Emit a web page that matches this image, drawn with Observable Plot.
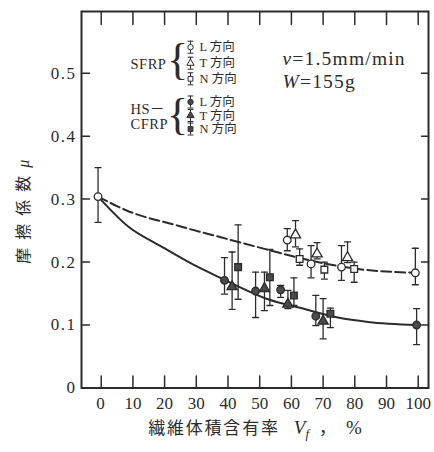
<!DOCTYPE html>
<html><head><meta charset="utf-8">
<script src="https://cdn.jsdelivr.net/npm/d3@7"></script>
<script src="https://cdn.jsdelivr.net/npm/@observablehq/plot@0.6"></script>
<style>
html,body{margin:0;padding:0;background:#fff;}
</style>
</head><body><div id="chart"></div>
<script>
// ---- data ----
const xTicks = [0, 10, 20, 30, 40, 50, 60, 70, 80, 90, 100];
const yTicks = [0, 0.1, 0.2, 0.3, 0.4, 0.5];
const yTickLabels = ["0", "0.1", "0.2", "0.3", "0.4", "0.5"];

// each row: [Vf %, mu, lower, upper]
const sfrpL = [[-1, 0.304, 0.263, 0.350], [58.7, 0.235, 0.218, 0.253], [66.2, 0.197, 0.175, 0.226], [75.8, 0.192, 0.171, 0.226], [99.1, 0.183, 0.164, 0.222]];
const sfrpT = [[61.3, 0.243, 0.224, 0.266], [68.1, 0.213, 0.205, 0.231], [77.7, 0.207, 0.199, 0.232]];
const sfrpN = [[62.6, 0.205, 0.195, 0.221], [70.4, 0.188, 0.173, 0.200], [79.8, 0.189, 0.168, 0.200]];
const cfrpL = [[38.9, 0.171, 0.149, 0.207], [48.7, 0.154, 0.112, 0.184], [56.6, 0.156, 0.144, 0.163], [67.7, 0.114, 0.099, 0.147], [99.5, 0.100, 0.069, 0.126]];
const cfrpT = [[41.3, 0.161, 0.125, 0.216], [51.5, 0.158, 0.123, 0.184], [58.9, 0.133, 0.126, 0.155], [70.0, 0.106, 0.078, 0.142]];
const cfrpN = [[43.2, 0.192, 0.141, 0.259], [53.2, 0.176, 0.131, 0.220], [60.8, 0.147, 0.131, 0.175], [72.3, 0.118, 0.096, 0.127]];

const sfrpCurveX = [-1, 8, 24, 38, 53, 63, 81, 99.1];
const sfrpCurveY = [0.304, 0.282, 0.258, 0.239, 0.219, 0.206, 0.189, 0.183];
const cfrpCurveX = [-1, 8.4, 18.9, 29.4, 38, 52.6, 63, 74.7, 84.2, 99.5];
const cfrpCurveY = [0.304, 0.257, 0.225, 0.195, 0.174, 0.141, 0.127, 0.112, 0.105, 0.100];

const directionLabels = ["L 方向", "T 方向", "N 方向"];
const symbolNames = ["circle", "triangle", "square"];
const groupLabels = ["SFRP", "HS－", "CFRP"];

// ---- layout ----
const W = 434, H = 452;
const mL = 81, mR = 6, mT = 11, mB = 64.5;
const X = p => (p - 100.7) / 3.17;      // pixel -> Vf
const Y = p => (387.5 - p) / 629.6;     // pixel -> mu
const xDom = [X(mL), X(W - mR)];
const yDom = [0, Y(mT)];
const ink = "#2b2b2b";
const serif = "'Liberation Serif', 'Noto Sans CJK JP', serif";
const lineShape = {draw(ctx, l) { ctx.moveTo(0, 0); ctx.lineTo(0, -l); }};

const toRows = (arr, sym, filled) => arr.map(r => ({x: r[0], y: r[1], lo: r[2], hi: r[3], sym, filled}));
const points = [
  ...toRows(sfrpL, symbolNames[0], false), ...toRows(sfrpT, symbolNames[1], false), ...toRows(sfrpN, symbolNames[2], false),
  ...toRows(cfrpL, symbolNames[0], true), ...toRows(cfrpT, symbolNames[1], true), ...toRows(cfrpN, symbolNames[2], true)
];
const sfrpCurve = sfrpCurveX.map((x, i) => ({x, y: sfrpCurveY[i]}));
const cfrpCurve = cfrpCurveX.map((x, i) => ({x, y: cfrpCurveY[i]}));

// legend rows (pixel rows of the figure legend)
const legendPy = [46.7, 62.7, 78.3, 101.5, 115, 128.5];
const legendRows = legendPy.map((py, i) => ({
  py, label: directionLabels[i % 3], sym: symbolNames[i % 3], filled: i >= 3
}));
const groupRows = [{t: groupLabels[0], py: 63.5}, {t: groupLabels[1], py: 108.5}, {t: groupLabels[2], py: 124}];
const braceRows = [{py: 62.5}, {py: 117}];

const chart = Plot.plot({
  width: W, height: H,
  marginLeft: mL, marginRight: mR, marginTop: mT, marginBottom: mB,
  x: {domain: xDom},
  y: {domain: yDom},
  style: {background: "#fff", color: ink, fontFamily: serif},
  marks: [
    Plot.frame({stroke: ink, strokeWidth: 2}),
    Plot.axisX(xTicks, {tickSize: 0, tickPadding: 9, fontSize: 17, fontFamily: serif, label: null, tickFormat: d => String(d)}),
    Plot.axisY(yTicks, {tickSize: 0, tickPadding: 5, fontSize: 17, fontFamily: serif, label: null, tickFormat: (d, i) => yTickLabels[i]}),
    // inward tick marks
    Plot.vector(xTicks, {x: d => d, y: yDom[0], length: 12, rotate: 0, anchor: "start", shape: lineShape, stroke: ink, strokeWidth: 1.5}),
    Plot.vector(xTicks, {x: d => d, y: yDom[1], length: 13, rotate: 180, anchor: "start", shape: lineShape, stroke: ink, strokeWidth: 1.5}),
    Plot.vector(yTicks.filter(d => d > 0), {x: xDom[0], y: d => d, length: 8, rotate: 90, anchor: "start", shape: lineShape, stroke: ink, strokeWidth: 1.5}),
    Plot.vector(yTicks.filter(d => d > 0), {x: xDom[1], y: d => d, length: 7, rotate: 270, anchor: "start", shape: lineShape, stroke: ink, strokeWidth: 1.5}),
    // curves
    Plot.line(sfrpCurve, {x: "x", y: "y", curve: "monotone-x", stroke: ink, strokeWidth: 2, strokeDasharray: "10,4"}),
    Plot.line(cfrpCurve, {x: "x", y: "y", curve: "monotone-x", stroke: ink, strokeWidth: 2}),
    // error bars
    Plot.ruleX(points, {x: "x", y1: "lo", y2: "hi", stroke: ink, strokeWidth: 1.3}),
    Plot.vector(points, {x: "x", y: "lo", length: 6, rotate: 90, anchor: "middle", shape: lineShape, stroke: ink, strokeWidth: 1.3}),
    Plot.vector(points, {x: "x", y: "hi", length: 6, rotate: 90, anchor: "middle", shape: lineShape, stroke: ink, strokeWidth: 1.3}),
    Plot.dot(points.filter(d => !d.filled), {x: "x", y: "y", symbol: "sym", r: 3.8, fill: "#fff", stroke: ink, strokeWidth: 1.3}),
    Plot.dot(points.filter(d => d.filled), {x: "x", y: "y", symbol: "sym", r: 3.8, fill: "#4a4a4a", stroke: ink, strokeWidth: 1.3}),
    // legend
    Plot.ruleX(legendRows, {x: X(190), y1: d => Y(d.py - 6), y2: d => Y(d.py + 6), stroke: ink, strokeWidth: 1}),
    Plot.vector(legendRows, {x: X(190), y: d => Y(d.py - 6), length: 5, rotate: 90, anchor: "middle", shape: lineShape, stroke: ink, strokeWidth: 1}),
    Plot.vector(legendRows, {x: X(190), y: d => Y(d.py + 6), length: 5, rotate: 90, anchor: "middle", shape: lineShape, stroke: ink, strokeWidth: 1}),
    Plot.dot(legendRows, {x: X(190), y: d => Y(d.py), symbol: "sym", r: 2.7, fill: d => d.filled ? "#4a4a4a" : "#fff", stroke: ink, strokeWidth: 1}),
    Plot.text(legendRows, {x: X(199), y: d => Y(d.py), text: "label", textAnchor: "start", fontSize: 12.5, fontFamily: serif, fill: ink}),
    Plot.text(groupRows, {x: X(130), y: d => Y(d.py), text: "t", textAnchor: "start", fontSize: 14.5, fontFamily: serif, fill: ink}),
    Plot.text(braceRows, {x: X(177), y: d => Y(d.py), text: () => "{", fontSize: 44, fontFamily: serif, fill: ink, dy: -3}),
    // annotations
    Plot.text(["v=1.5mm/min"], {frameAnchor: "top-left", dx: 201, dy: 40, textAnchor: "start", fontSize: 19.5, fontFamily: serif, fill: ink}),
    Plot.text(["W=155g"], {frameAnchor: "top-left", dx: 201, dy: 63, textAnchor: "start", fontSize: 19.5, fontFamily: serif, fill: ink}),
    // axis titles
    Plot.text(["繊維体積含有率 Vf，%"], {frameAnchor: "bottom", textAnchor: "middle", dy: 46, fontSize: 17, fontFamily: serif, fill: ink}),
    Plot.text(["摩\u2002擦\u2002係\u2002数\u2002μ"], {frameAnchor: "left", textAnchor: "middle", dx: -58, dy: 12, rotate: -90, fontSize: 16, fontFamily: serif, fill: ink})
  ]
});
document.getElementById("chart").appendChild(chart);

// rich text (italics / subscripts) applied to the rendered text elements
const NS = "http://www.w3.org/2000/svg";
function rich(el, parts) {
  while (el.firstChild) el.removeChild(el.firstChild);
  for (const [t, a] of parts) {
    const ts = document.createElementNS(NS, "tspan");
    ts.textContent = t;
    for (const k in (a || {})) ts.setAttribute(k, a[k]);
    el.appendChild(ts);
  }
}
d3.select(chart).selectAll("text").each(function () {
  const s = this.textContent;
  if (s === "v=1.5mm/min") { rich(this, [["v", {"font-style": "italic"}], ["=1.5mm/min"]]); this.setAttribute("letter-spacing", "1.2"); }
  else if (s === "W=155g") { rich(this, [["W", {"font-style": "italic"}], ["=155g"]]); this.setAttribute("letter-spacing", "1.2"); }
  else if (s === "繊維体積含有率 Vf，%") {
    rich(this, [
      ["繊維体積含有率", {"letter-spacing": "1.8"}],
      ["V", {"font-style": "italic", "font-size": "19", "dx": "14"}],
      ["f", {"font-style": "italic", "font-size": "13", "dy": "4"}],
      ["，", {"dy": "-4", "dx": "10"}],
      ["%", {"font-size": "19", "dx": "10"}]
    ]);
  }
  else if (s === "摩\u2002擦\u2002係\u2002数\u2002μ") {
    rich(this, [["摩\u2002擦\u2002係\u2002数\u2002"], ["μ", {"font-style": "italic"}]]);
  }
  else if (groupLabels.includes(s)) { this.setAttribute("letter-spacing", "0.5"); }
  else if (/^0(\.\d)?$/.test(s)) { this.setAttribute("letter-spacing", "1.5"); }
});
</script>
</body></html>
